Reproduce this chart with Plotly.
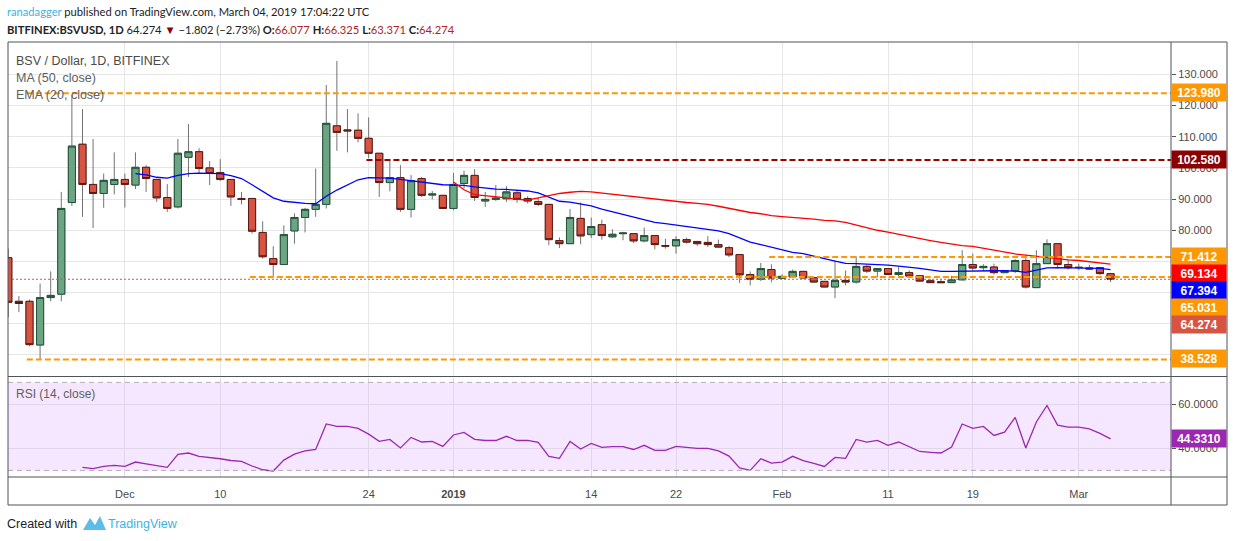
import pandas as pd
import plotly.graph_objects as go

# -----------------------------------------------------------------------------
# Data (BSV/USD daily, Bitfinex)
# -----------------------------------------------------------------------------
START_DATE = "2018-11-20"

opens = [71.2, 57.2, 57.2, 43.2, 58.4, 59.5, 88.9, 107.6, 94.7, 91.8,
         94.7, 96.3, 94.5, 100.2, 96.3, 90.5, 87.5, 103.4, 105.2, 100.0,
         98.5, 96.3, 90.2, 90.2, 79.3, 70.9, 69.0, 79.8, 84.1, 86.7,
         88.3, 113.5, 112.2, 112.1, 109.5, 104.7, 95.3, 96.9, 86.7, 96.6,
         91.3, 91.2, 87.0, 95.0, 97.6, 89.4, 89.9, 90.1, 92.0, 90.2,
         89.2, 88.3, 76.7, 75.7, 83.8, 78.6, 81.8, 77.9, 78.9, 78.9,
         76.6, 78.3, 75.1, 75.0, 77.0, 76.4, 76.1, 75.4, 74.4, 72.2,
         65.8, 64.3, 67.4, 64.6, 65.0, 66.8, 64.8, 63.6, 61.8, 63.9,
         63.4, 68.4, 66.9, 67.7, 65.8, 66.4, 65.4, 63.8, 63.5, 63.2,
         64.1, 69.0, 68.0, 68.2, 66.4, 67.0, 70.3, 61.6, 69.3, 75.7,
         69.0, 68.0, 67.9, 68.0, 66.077]
highs = [74.1, 58.9, 57.8, 62.9, 66.8, 92.3, 123.4, 118.9, 109.3, 98.2,
         105.0, 98.2, 105.0, 100.9, 96.5, 94.8, 109.3, 114.1, 106.3, 102.2,
         102.8, 96.4, 92.3, 90.3, 82.9, 74.9, 81.6, 85.4, 87.2, 99.8,
         126.6, 134.3, 118.9, 117.5, 116.2, 104.8, 102.5, 100.9, 97.7, 97.1,
         92.6, 91.3, 98.4, 99.1, 99.6, 92.3, 94.5, 94.1, 92.9, 90.9,
         90.4, 88.4, 77.7, 86.8, 88.9, 84.1, 83.4, 80.3, 79.5, 79.1,
         80.9, 78.4, 77.3, 78.1, 77.6, 76.6, 78.1, 77.0, 74.9, 72.3,
         66.8, 69.5, 69.1, 65.8, 67.4, 67.0, 65.0, 63.7, 70.4, 67.1,
         71.6, 68.9, 67.8, 67.8, 68.3, 67.1, 65.6, 64.3, 64.3, 65.4,
         73.6, 72.5, 69.1, 69.3, 67.2, 70.7, 72.0, 73.6, 77.1, 75.8,
         70.6, 69.3, 68.9, 68.2, 66.325]
lows = [52.1, 53.7, 42.8, 38.5, 57.2, 57.2, 87.8, 84.3, 80.7, 87.2,
        91.5, 87.3, 93.2, 92.3, 89.1, 85.9, 87.0, 97.1, 98.2, 94.5,
        95.8, 87.8, 88.3, 78.9, 70.9, 65.3, 68.9, 75.7, 79.3, 84.3,
        87.0, 105.5, 105.0, 108.2, 103.1, 90.7, 92.5, 85.9, 84.1, 90.7,
        89.9, 86.9, 86.4, 93.4, 89.4, 87.5, 89.4, 89.1, 88.8, 88.6,
        87.8, 75.2, 74.3, 75.6, 75.5, 77.5, 77.0, 77.5, 76.8, 75.9,
        76.1, 73.9, 74.1, 72.5, 75.7, 75.0, 74.6, 74.6, 71.4, 63.1,
        62.3, 63.7, 63.3, 64.4, 64.7, 64.5, 63.2, 61.7, 58.2, 62.3,
        62.9, 66.3, 65.0, 65.6, 65.2, 65.0, 63.6, 63.1, 63.1, 63.1,
        63.9, 67.1, 66.9, 65.8, 66.2, 66.3, 61.3, 61.5, 69.2, 67.7,
        67.4, 67.2, 67.3, 65.6, 63.371]
closes = [56.9, 56.5, 43.3, 58.4, 59.1, 87.0, 107.0, 94.7, 91.8, 96.0,
          96.3, 94.7, 100.2, 96.6, 90.4, 87.0, 104.7, 105.2, 99.8, 98.2,
          96.3, 90.7, 89.9, 79.7, 71.5, 69.0, 78.6, 84.1, 86.7, 88.3,
          114.3, 111.4, 111.9, 109.5, 104.7, 95.3, 96.9, 86.7, 95.9, 91.2,
          91.6, 87.0, 94.7, 97.6, 90.5, 89.9, 90.3, 92.3, 89.9, 89.4,
          88.3, 77.0, 75.7, 84.1, 78.2, 81.2, 78.3, 78.7, 79.1, 76.6,
          78.3, 75.4, 74.9, 77.0, 76.2, 75.7, 75.4, 74.6, 72.1, 65.7,
          64.3, 67.7, 64.7, 65.2, 66.8, 64.7, 63.4, 61.8, 63.9, 63.4,
          68.4, 66.9, 67.7, 65.8, 66.4, 65.3, 63.7, 63.2, 63.2, 64.1,
          69.0, 67.9, 68.4, 66.4, 67.0, 70.3, 61.8, 69.3, 75.7, 69.0,
          68.0, 68.1, 67.6, 66.1, 64.274]

# EMA(20) starts on bar 12, MA(50) on bar 42, RSI(14) on bar 7
ema20 = [98.2, 97.8, 97.0, 96.7, 97.6, 98.2, 98.3, 98.2, 98.2,
         97.5, 96.6, 94.6, 92.5, 90.4, 89.3, 88.9, 88.6, 88.5, 90.9,
         92.9, 94.6, 96.2, 96.9, 96.8, 96.7, 96.3, 95.9, 95.5, 95.1,
         94.6, 94.5, 94.4, 93.9, 93.5, 93.2, 93.1, 92.8, 92.6, 92.0,
         90.7, 89.3, 89.0, 88.4, 87.8, 86.8, 85.9, 85.0, 84.1, 83.2,
         82.5, 82.1, 81.6, 81.2, 80.7, 80.2, 79.8, 78.9, 77.5, 76.2,
         75.4, 74.6, 73.7, 72.9, 72.5, 71.6, 70.9, 70.1, 69.4, 69.3,
         69.2, 69.0, 68.8, 68.5, 68.2, 67.8, 67.3, 66.8, 66.8, 66.9,
         67.0, 67.1, 67.0, 67.0, 66.9, 66.5, 67.1, 67.9, 68.0, 68.0,
         68.0, 67.9, 67.8, 67.394]
ma50 = [95.5, 93.0, 91.4, 91.1, 90.8, 90.4, 89.9, 89.7, 90.4, 91.1,
        91.8, 92.2, 92.5, 92.3, 91.9, 91.6, 91.3, 90.9, 90.5, 90.0,
        89.6, 89.3, 88.9, 88.6, 88.3, 87.7, 87.0, 86.2, 85.7, 85.3,
        84.7, 84.4, 84.2, 83.9, 83.6, 83.2, 83.0, 82.5, 81.6, 80.9,
        80.0, 79.4, 78.7, 77.9, 77.2, 76.7, 76.1, 75.5, 75.1, 74.8,
        74.2, 73.5, 72.9, 72.4, 72.0, 71.6, 71.3, 70.9, 70.5, 70.3,
        69.9, 69.6, 69.134]
rsi14 = [31.4, 30.8, 31.8, 32.3, 31.8, 33.8, 33.0, 32.3, 31.4, 37.3,
         37.9, 36.4, 35.9, 35.3, 34.5, 34.1, 32.0, 30.3, 29.7, 34.7,
         37.4, 38.9, 39.5, 51.1, 50.0, 50.0, 49.1, 46.5, 43.2, 44.1,
         40.2, 45.0, 42.9, 43.2, 40.9, 46.1, 47.3, 44.1, 43.6, 43.6,
         45.5, 43.6, 43.6, 42.7, 36.4, 35.5, 43.2, 39.7, 42.3, 40.5,
         40.8, 40.8, 39.5, 41.4, 39.1, 39.1, 40.9, 40.5, 40.0, 40.0,
         38.9, 36.5, 31.1, 30.0, 35.3, 33.3, 33.8, 36.4, 34.4, 33.2,
         31.8, 35.9, 35.5, 44.1, 42.9, 43.6, 41.4, 42.9, 40.8, 38.6,
         38.2, 37.9, 40.6, 51.1, 49.1, 50.0, 45.9, 47.4, 54.1, 40.2,
         52.0, 59.5, 50.6, 49.7, 49.7, 48.9, 46.8, 44.331]

# drawn horizontal levels: (price, start date, colour)
levels = [
    (123.980, "2018-11-21 18:00", "#FF9800"),
    (102.580, "2018-12-23 19:00", "#990000"),
    (71.412, "2019-01-30 19:00", "#FF9800"),
    (65.031, "2018-12-12 19:00", "#FF9800"),
    (38.528, "2018-11-21 18:00", "#FF9800"),
]

tick_dates = ["2018-12-01", "2018-12-10", "2018-12-24", "2019-01-01", "2019-01-14",
              "2019-01-22", "2019-02-01", "2019-02-11", "2019-02-19", "2019-03-01"]
tick_text = ["Dec", "10", "24", "<b>2019</b>", "14", "22", "Feb", "11", "19", "Mar"]
price_grid = [40, 50, 60, 70, 80, 90, 100, 110, 120, 130]
# 40-70 labels sit under the price tags in the original, so they stay blank
price_labels = ["", "", "", "", "80.000", "90.000", "100.000", "110.000", "120.000", "130.000"]

dates = pd.date_range(START_DATE, periods=len(closes), freq="D")

# -----------------------------------------------------------------------------
# Page geometry helpers (pixel -> paper)
# -----------------------------------------------------------------------------
W, H = 1234, 541


def px(x):
    return x / W


def py(y):
    return 1 - y / H


X_LEFT, X_RIGHT = 8, 1171
X_RANGE = ["2018-11-19 23:20", "2019-03-09 16:50"]
FONT = "Liberation Sans"
HEAD_FONT = "Lato"
UP, UP_EDGE = "#6BA583", "#225437"
DOWN, DOWN_EDGE = "#D75442", "#5B1A13"
WICK = "#737375"
RSI_COL = "#9C27B0"

fig = go.Figure()

# wicks (gray) - the body part is covered by the next trace
fig.add_trace(go.Candlestick(
    x=dates, open=opens, high=highs, low=lows, close=closes,
    increasing=dict(line=dict(color=WICK, width=1), fillcolor=WICK),
    decreasing=dict(line=dict(color=WICK, width=1), fillcolor=WICK),
    whiskerwidth=0, hoverinfo="skip", showlegend=False, xaxis="x", yaxis="y",
))
# bodies with dark borders
body_hi = [max(o, c) for o, c in zip(opens, closes)]
body_lo = [min(o, c) for o, c in zip(opens, closes)]
fig.add_trace(go.Candlestick(
    x=dates, open=opens, high=body_hi, low=body_lo, close=closes,
    increasing=dict(line=dict(color=UP_EDGE, width=1), fillcolor=UP),
    decreasing=dict(line=dict(color=DOWN_EDGE, width=1), fillcolor=DOWN),
    whiskerwidth=0, showlegend=False, xaxis="x", yaxis="y",
))

fig.add_trace(go.Scatter(x=dates[len(dates) - len(ema20):], y=ema20, mode="lines",
                         line=dict(color="#0000FF", width=1.3), showlegend=False,
                         xaxis="x", yaxis="y"))
fig.add_trace(go.Scatter(x=dates[len(dates) - len(ma50):], y=ma50, mode="lines",
                         line=dict(color="#FF0000", width=1.3), showlegend=False,
                         xaxis="x", yaxis="y"))
fig.add_trace(go.Scatter(x=dates[len(dates) - len(rsi14):], y=rsi14, mode="lines",
                         line=dict(color=RSI_COL, width=1.3), showlegend=False,
                         xaxis="x2", yaxis="y2"))

shapes = []
# RSI band
shapes.append(dict(type="rect", xref="x2", yref="y2", x0=X_RANGE[0], x1=X_RANGE[1],
                   y0=30, y1=70, fillcolor="rgba(153,21,255,0.10)", line_width=0, layer="below"))
for lv in (30, 70):
    shapes.append(dict(type="line", xref="x2", yref="y2", x0=X_RANGE[0], x1=X_RANGE[1],
                       y0=lv, y1=lv, line=dict(color="#B8A8C0", width=1, dash="5px,4px")))
# last price dotted line
shapes.append(dict(type="line", xref="x", yref="y", x0=X_RANGE[0], x1=X_RANGE[1],
                   y0=closes[-1], y1=closes[-1], line=dict(color=DOWN, width=1, dash="2px,2px")))
for price, start, col in levels:
    shapes.append(dict(type="line", xref="x", yref="y", x0=start, x1=X_RANGE[1],
                       y0=price, y1=price, line=dict(color=col, width=2, dash="6px,3px")))

# frame lines
FRAME = "#50535E"
shapes.append(dict(type="rect", xref="paper", yref="paper", x0=px(8), x1=px(1227),
                   y0=py(505), y1=py(42), line=dict(color=FRAME, width=1)))
shapes.append(dict(type="line", xref="paper", yref="paper", x0=px(1171), x1=px(1171),
                   y0=py(505), y1=py(42), line=dict(color=FRAME, width=1)))
for yy in (376.5, 477):
    shapes.append(dict(type="line", xref="paper", yref="paper", x0=px(8), x1=px(1227),
                       y0=py(yy), y1=py(yy), line=dict(color=FRAME, width=1)))
# small TradingView logo
shapes.append(dict(type="path", xref="paper", yref="paper", fillcolor="#5CBDEA", line_width=0,
                   path="M {} {} L {} {} L {} {} L {} {} L {} {} Z".format(
                       px(83), py(530), px(90), py(518), px(95), py(525),
                       px(100), py(516), px(106), py(530))))

annotations = []


def label(text, y, x=14, size=12, color="#4A4A4A", family=FONT):
    annotations.append(dict(text=text, xref="paper", yref="paper", x=px(x), y=py(y),
                            xanchor="left", yanchor="middle", showarrow=False,
                            font=dict(family=family, size=size, color=color)))


label("<span style='color:#3BB3E4'>ranadagger</span> published on TradingView.com, "
      "March 04, 2019 17:04:22 UTC", 12, x=5, size=11.2, color="#222", family=HEAD_FONT)
label("<b>BITFINEX:BSVUSD, 1D</b> 64.274 <span style='color:#8B0000'>▼</span> "
      "−1.802 (−2.73%) <b>O:</b><span style='color:#B22222'>66.077</span> "
      "<b>H:</b><span style='color:#B22222'>66.325</span> "
      "<b>L:</b><span style='color:#B22222'>63.371</span> "
      "<b>C:</b><span style='color:#B22222'>64.274</span>", 29, x=5, size=11.2, color="#222",
      family=HEAD_FONT)
label("BSV / Dollar, 1D, BITFINEX", 61, x=14, size=12.5, color="#4A4A4A")
label("MA (50, close)", 78, x=14, size=12.5, color="#606060")
label("EMA (20, close)", 95, x=14, size=12.5, color="#606060")
label("RSI (14, close)", 394, x=14, size=12, color="#606060")
label("Created with", 524, x=5, size=12.5, color="#222")
label("TradingView", 524, x=106, size=12.5, color="#3BB3E4")

# price-scale tags: (text, centre pixel y, colour)
tags = [
    ("123.980", 92.7, "#FF9800"),
    ("102.580", 159.5, "#8B0000"),
    ("71.412", 256.7, "#FF9800"),
    ("69.134", 273.3, "#FF0000"),
    ("67.394", 290.0, "#0000FF"),
    ("65.031", 307.7, "#FF9800"),
    ("64.274", 324.3, DOWN),
    ("38.528", 358.3, "#FF9800"),
    ("44.3310", 438.5, RSI_COL),
]
for txt, yc, col in tags:
    annotations.append(dict(text="<b>%s</b>" % txt, xref="paper", yref="paper",
                            x=px(1171), y=py(yc), xanchor="left", yanchor="middle",
                            showarrow=False, bgcolor=col, width=50, height=13, borderpad=2,
                            align="center", font=dict(family=FONT, size=12, color="white")))

axis_font = dict(family=FONT, size=11, color="#4A4A4A")
fig.update_layout(
    width=W, height=H,
    margin=dict(l=0, r=0, t=0, b=0),
    paper_bgcolor="white", plot_bgcolor="white",
    boxgap=0.33, boxgroupgap=0,
    showlegend=False,
    xaxis=dict(domain=[px(X_LEFT), px(X_RIGHT)], anchor="y", type="date", range=X_RANGE,
               tickvals=tick_dates, showticklabels=False, showgrid=True, gridcolor="#E6E6E6",
               zeroline=False, rangeslider=dict(visible=False), fixedrange=True),
    yaxis=dict(domain=[py(375.5), py(42)], anchor="x", side="right", range=[33.4, 140.4],
               tickvals=price_grid, ticktext=price_labels,
               showgrid=True, gridcolor="#E6E6E6", zeroline=False, ticks="outside",
               ticklen=4, tickcolor=FRAME, tickfont=axis_font, fixedrange=True),
    xaxis2=dict(domain=[px(X_LEFT), px(X_RIGHT)], anchor="y2", type="date", range=X_RANGE,
                tickvals=tick_dates, ticktext=tick_text, showgrid=True, gridcolor="#E2D6EA",
                zeroline=False, tickfont=axis_font, ticklabelstandoff=9,
                rangeslider=dict(visible=False), fixedrange=True),
    yaxis2=dict(domain=[py(477), py(378)], anchor="x2", side="right", range=[27, 72],
                tickvals=[40, 60], ticktext=["40.0000", "60.0000"], showgrid=True,
                gridcolor="#E2D6EA", zeroline=False, ticks="outside", ticklen=4,
                tickcolor=FRAME, tickfont=axis_font, fixedrange=True),
    shapes=shapes,
    annotations=annotations,
)

# drop the browser's default page margin so the figure sits at the window corner
fig.write_html("out.html", config={"displayModeBar": False},
               post_script="document.body.style.margin='0';")
